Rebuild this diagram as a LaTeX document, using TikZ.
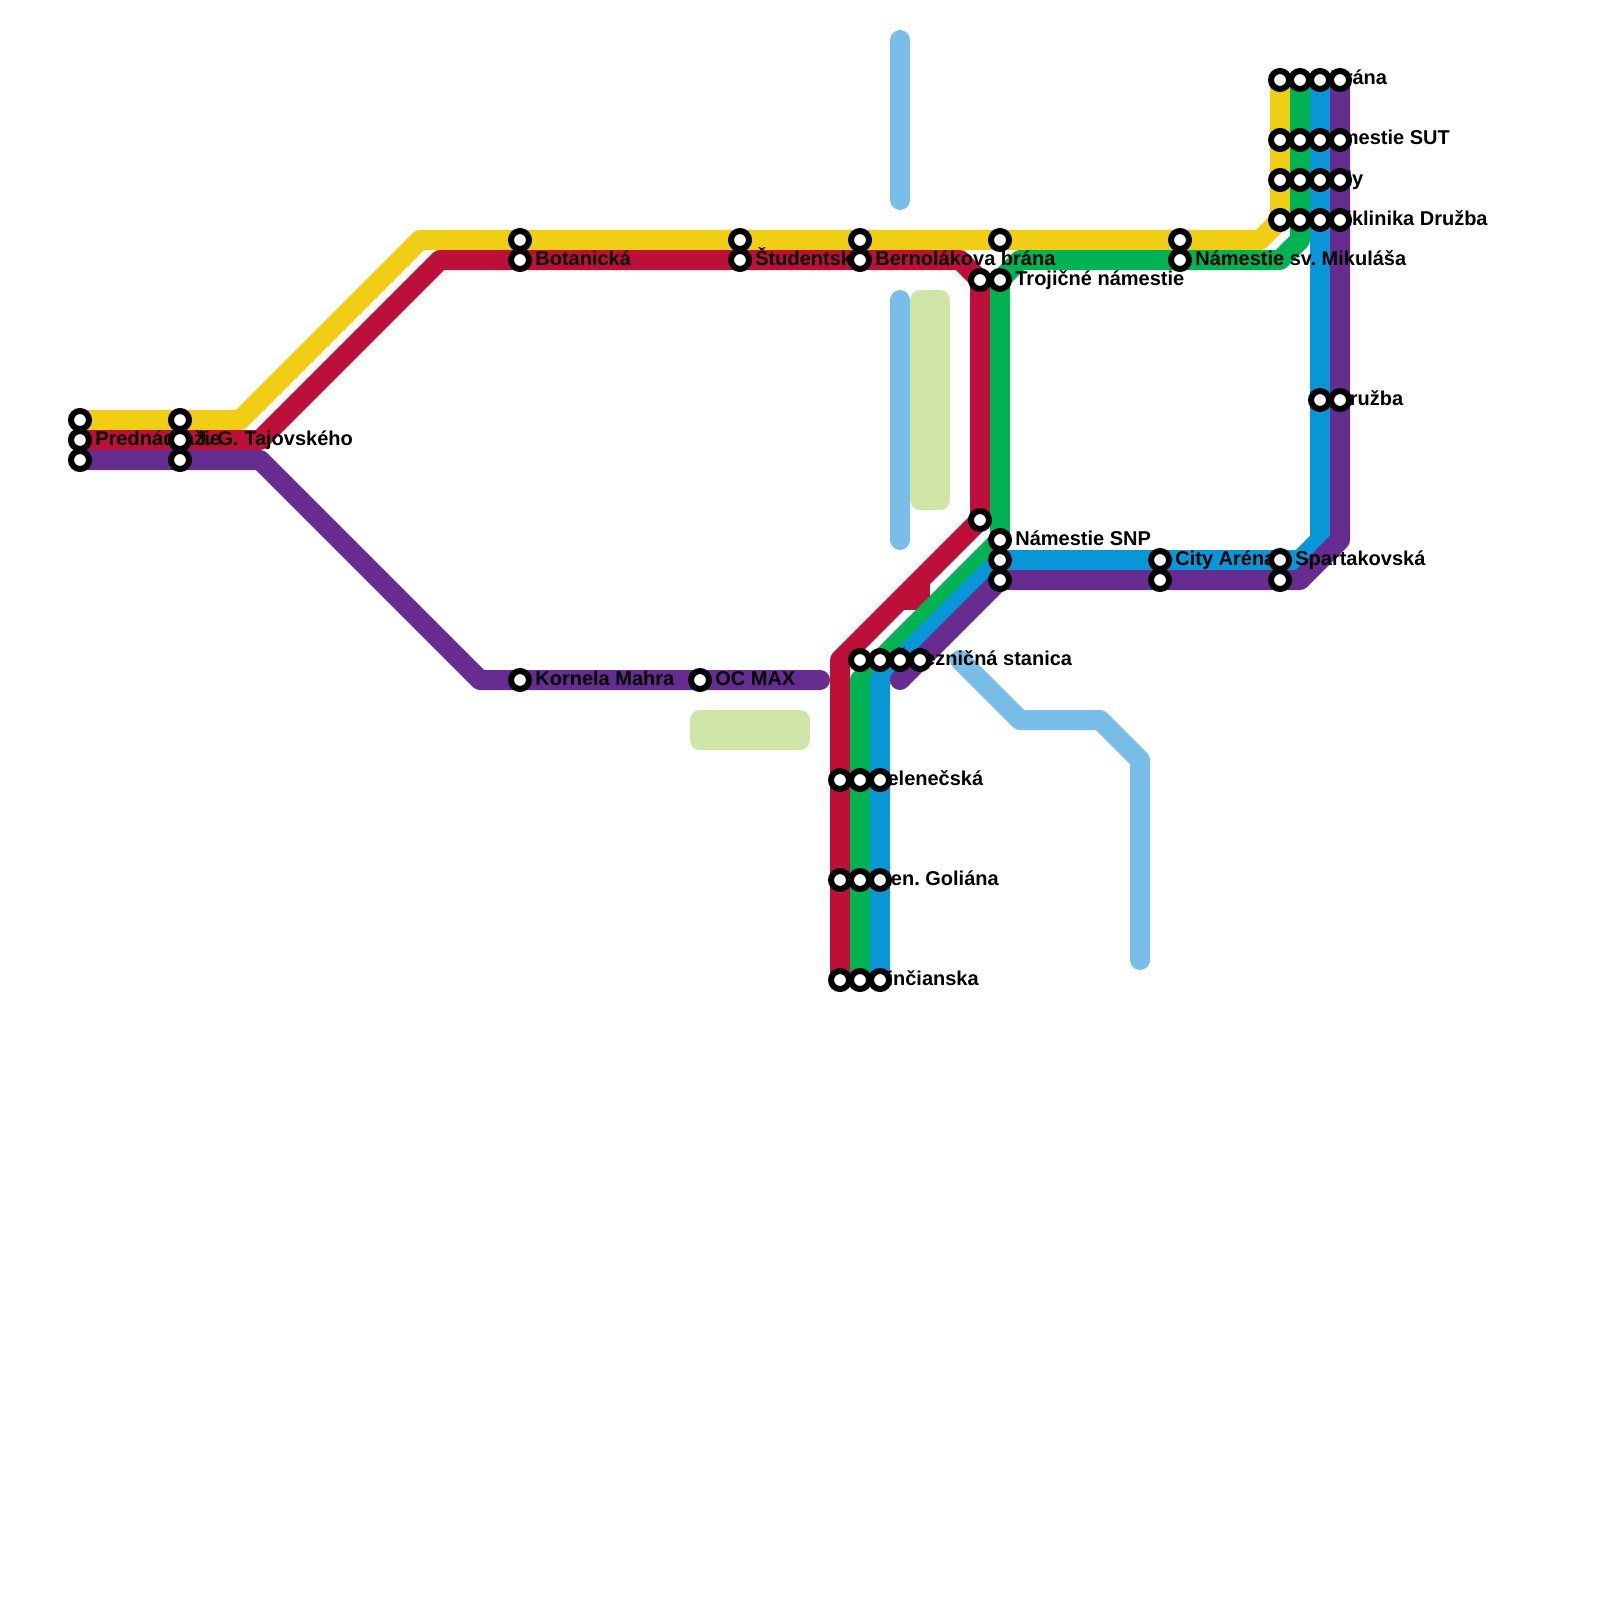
\documentclass[tikz,border=0pt]{standalone}
\usepackage{fontspec}
\setmainfont{Liberation Sans}
\frenchspacing
\usetikzlibrary{positioning}
\definecolor{lineyellow}{HTML}{F0CE15}
\definecolor{linered}{HTML}{BD1038}
\definecolor{linegreen}{HTML}{00B251}
\definecolor{lineblue}{HTML}{0896D7}
\definecolor{linepurple}{HTML}{662C90}
\definecolor{linesky}{HTML}{79BDE9}
\definecolor{parkgreen}{HTML}{CFE4A7}
\pgfdeclarelayer{lines}
\pgfdeclarelayer{stops}
\pgfsetlayers{lines,main,stops}
\begin{document}
\begin{tikzpicture}[x=0.4cm,y=-0.4cm,
    stop/.style={circle,draw=black,fill=white,line width=0.12cm,minimum size=0.36cm,inner sep=0pt},
    stopname/.style={font=\fontsize{11.38}{13}\selectfont\bfseries,inner sep=0pt,yshift=-0.1cm},
    route/.style={line width=0.4cm,line cap=round,line join=round}]
\useasboundingbox (0,0) rectangle (80,80);
\begin{pgfonlayer}{stops}
\foreach \n/\x/\y in {pd1/4/21,pd2/4/22,pd3/4/23,jg1/9/21,jg2/9/22,jg3/9/23,
    bot1/26/12,bot2/26/13,stu1/37/12,stu2/37/13,ber1/43/12,ber2/43/13,
    tro0/50/12,tro1/49/14,tro2/50/14,mik1/59/12,mik2/59/13,
    snp0/49/26,snp1/50/27,snp2/50/28,snp3/50/29,cit1/58/28,cit2/58/29,spa1/64/28,spa2/64/29,
    dru1/66/20,dru2/67/20,kor/26/34,max/35/34,
    zel1/43/33,zel2/44/33,zel3/45/33,zel4/46/33}
  \node[stop] (\n) at (\x,\y) {};
\foreach \r/\y in {a/4,b/7,c/9,d/11}
  \foreach \c/\x in {1/64,2/65,3/66,4/67}
    \node[stop] (top\r\c) at (\x,\y) {};
\foreach \r/\y in {a/39,b/44,c/49}
  \foreach \c/\x in {1/42,2/43,3/44}
    \node[stop] (low\r\c) at (\x,\y) {};
\end{pgfonlayer}
\node[stopname,base right=0.3cm of pd2.center] (lpd) {Prednádražie};
\node[stopname,base right=0.3cm of jg2.center] (ljg) {J. G. Tajovského};
\node[stopname,base right=0.3cm of bot2.center] (lbot) {Botanická};
\node[stopname,base right=0.3cm of stu2.center] (lstu) {Študentská};
\node[stopname,base right=0.3cm of ber2.center] (lber) {Bernolákova brána};
\node[stopname,base right=0.3cm of tro2.center] (ltro) {Trojičné námestie};
\node[stopname,base right=0.3cm of mik2.center] (lmik) {Námestie sv. Mikuláša};
\node[stopname,base right=0.3cm of snp1.center] (lsnp) {Námestie SNP};
\node[stopname,base right=0.3cm of cit1.center] (lcit) {City Aréna};
\node[stopname,base right=0.3cm of spa1.center] (lspa) {Spartakovská};
\node[stopname,base right=0.3cm of dru1.center] (ldru) {Družba};
\node[stopname,base right=0.3cm of kor.center] (lkor) {Kornela Mahra};
\node[stopname,base right=0.3cm of max.center] (lmax) {OC MAX};
\node[stopname,base right=0.3cm of zel2.center] (lzel) {Železničná stanica};
\node[stopname,base right=0.2cm of topa3.center] (ltopa) {Brána};
\node[stopname,base right=0.3cm of topb2.center] (ltopb) {Námestie SUT};
\node[stopname,base right=0.3cm of topc2.center] (ltopc) {Sady};
\node[stopname,base right=0.3cm of topd2.center] (ltopd) {Poliklinika Družba};
\node[stopname,base right=0.3cm of lowa2.center] (llowa) {Zelenečská};
\node[stopname,base right=0.3cm of lowb2.center] (llowb) {Gen. Goliána};
\node[stopname,base right=0.3cm of lowc2.center] (llowc) {Linčianska};
\begin{pgfonlayer}{lines}
\fill[parkgreen,rounded corners=0.2cm] (45.5,14.5) rectangle (47.5,25.5);
\fill[parkgreen,rounded corners=0.2cm] (34.5,35.5) rectangle (40.5,37.5);
\draw[route,linesky] (45,2) -- (45,10);
\draw[route,linesky] (45,15) -- (45,27);
\draw[route,linesky] (48,33) -- (51,36) -- (55,36) -- (57,38) -- (57,48);
\draw[route,lineyellow] (pd1.center) -- (12,21) -- (21,12) -- (63,12) -- (64,11) -- (topa1.center);
\draw[route,linered] (pd2.center) -- (13,22) -- (22,13) -- (48,13) -- (49,14) -- (49,26) -- (42,33) -- (lowc1.center);
\draw[linered,line width=0.4cm] (46,29) -- (46,30) -- (45,30);
\draw[route,linegreen] (lowc2.center) -- (43,34) -- (50,27) -- (50,14) -- (51,13) -- (64,13) -- (65,12) -- (topa2.center);
\draw[route,lineblue] (lowc3.center) -- (44,34) -- (50,28) -- (65,28) -- (66,27) -- (topa3.center);
\draw[route,linepurple] (pd3.center) -- (13,23) -- (24,34) -- (41,34);
\draw[route,linepurple] (45,34) -- (50,29) -- (65,29) -- (67,27) -- (topa4.center);
\end{pgfonlayer}
\end{tikzpicture}
\end{document}
